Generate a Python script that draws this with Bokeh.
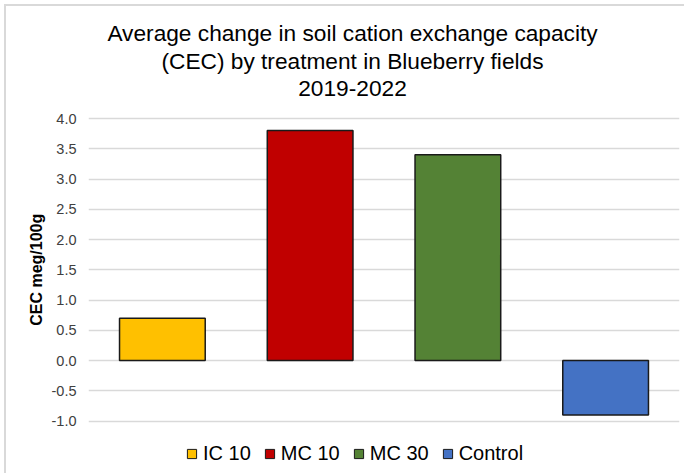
from bokeh.plotting import figure
from bokeh.models import (ColumnDataSource, Range1d, Legend, LegendItem, Title, Label,
                          FixedTicker, NumeralTickFormatter)
from bokeh.embed import file_html
from bokeh.resources import INLINE

# Average change in CEC by treatment, 2019-2022
treatments = ["IC 10", "MC 10", "MC 30", "Control"]
cec_change = [0.7, 3.8, 3.4, -0.9]
bar_colors = ["#FFC000", "#C00000", "#548235", "#4472C4"]
y_ticks = [-1.0, -0.5, 0.0, 0.5, 1.0, 1.5, 2.0, 2.5, 3.0, 3.5, 4.0]

title_lines = [
    "Average change in soil cation exchange capacity",
    "(CEC) by treatment in Blueberry fields",
    "2019-2022",
]
y_label = "CEC meg/100g"

FONT = "Liberation Sans"

# Liberation Sans Bold advance widths (em/1000) for the vertical axis title
_WB = {" ": 278, "/": 278, "C": 722, "E": 667, "e": 556, "g": 611, "m": 889}


def bold_width(s, size):
    return sum(_WB.get(ch, 556) for ch in s) / 1000.0 * size


# canvas geometry (canvas sits 6px in from the page's top-left)
W, H = 680, 469
FRAME_L, FRAME_R = 82, 673
Y_TOP_PX, Y_BOT_PX = 112.0, 414.5      # canvas rows of the 4.0 and -1.0 gridlines
px_per_unit = (Y_BOT_PX - Y_TOP_PX) / (y_ticks[-1] - y_ticks[0])
y_end = y_ticks[-1] + Y_TOP_PX / px_per_unit
y_start = y_ticks[0] - (H - Y_BOT_PX) / px_per_unit

source = ColumnDataSource(dict(treatment=treatments, value=cec_change, color=bar_colors))

p = figure(
    width=W, height=H,
    x_range=treatments, y_range=Range1d(y_start, y_end),
    x_axis_location=None,
    output_backend="svg", toolbar_location=None, title=None,
    min_border_left=FRAME_L, min_border_right=W - FRAME_R, min_border_top=0, min_border_bottom=0,
    margin=(6, 0, 0, 6),
    styles={"box-shadow": "-2px -2px 0 0 #d9d9d9"},
)
p.background_fill_color = "white"
p.border_fill_color = "white"
p.outline_line_color = None
p.x_range.range_padding = 0.0

bars = p.vbar(x="treatment", top="value", bottom=0, width=0.58, source=source,
              fill_color="color", line_color="#1a1a1a", line_width=1.5)

# zero-size square markers at the bar tops: they only supply the legend swatches
swatches = p.scatter(x="treatment", y="value", source=source, marker="square", size=0,
                     fill_color="color", line_color="#1a1a1a", line_width=1)

# grid and value axis
p.xgrid.visible = False
p.ygrid.grid_line_color = "#d9d9d9"
p.ygrid.grid_line_width = 1.5

yax = p.yaxis[0]
yax.ticker = FixedTicker(ticks=y_ticks)
yax.formatter = NumeralTickFormatter(format="0.0")
yax.axis_line_color = None
yax.major_tick_line_color = None
yax.minor_tick_line_color = None
yax.major_label_standoff = 6
yax.major_label_text_font = FONT
yax.major_label_text_font_size = "14.5px"
yax.major_label_text_color = "#404040"

# vertical axis title, centred on the -1..4 span
label_size = 16
label_mid = (Y_TOP_PX + Y_BOT_PX) / 2
p.add_layout(Title(text=y_label, align="left",
                   offset=(H - label_mid) - bold_width(y_label, label_size) / 2,
                   standoff=8, text_font=FONT, text_font_size=f"{label_size}px",
                   text_font_style="bold", text_color="#000000"), "left")

# three-line chart title (vertical centres of each line, canvas rows)
TITLE_CX = 346
for line, mid in zip(title_lines, [26.5, 54.0, 81.5]):
    p.add_layout(Label(x=TITLE_CX - FRAME_L, y=H - mid, x_units="screen", y_units="screen",
                       text=line, text_align="center", text_baseline="middle",
                       text_font=FONT, text_font_size="22.7px", text_color="#000000"))

# legend along the bottom, with small square swatches
items = [LegendItem(label=t, renderers=[swatches], index=i) for i, t in enumerate(treatments)]
legend = Legend(items=items, orientation="horizontal", location=(92, 10),
                glyph_width=23, glyph_height=23, label_standoff=0, spacing=7,
                padding=0, margin=0, border_line_color=None, background_fill_alpha=0,
                label_text_font=FONT, label_text_font_size="20px", label_text_color="#000000",
                label_height=11)
p.add_layout(legend, "center")

open("out.html", "w").write(file_html(p, INLINE))
